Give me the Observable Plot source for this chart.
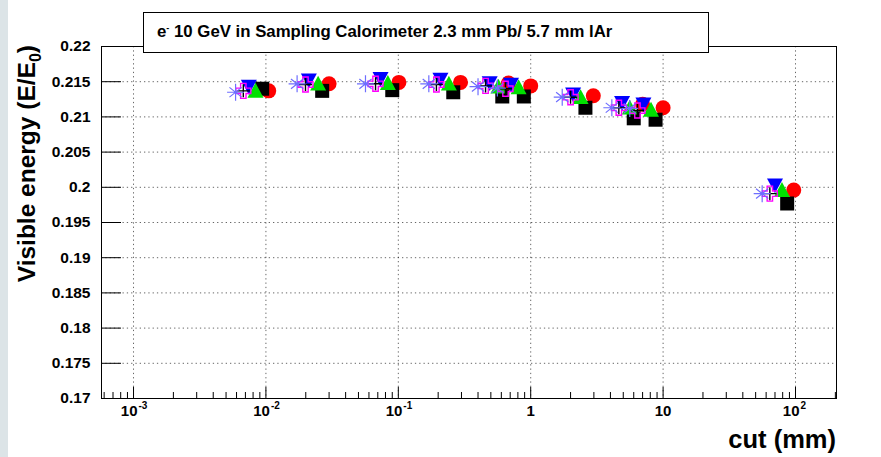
<!DOCTYPE html>
<html><head><meta charset="utf-8">
<script src="https://cdn.jsdelivr.net/npm/d3@7"></script>
<script src="https://cdn.jsdelivr.net/npm/@observablehq/plot@0.6"></script>
<style>
body{margin:0;background:#fff;}
#wrap{position:relative;width:881px;height:457px;overflow:hidden;font-family:"Liberation Sans",Arial,sans-serif;background:#fff;}
#strip{position:absolute;left:0;top:0;width:8px;height:457px;background:#dce4e7;z-index:2;}
#title{position:absolute;left:143px;top:12px;width:566px;height:41px;box-sizing:border-box;border:1px solid #000;background:#fff;font-weight:bold;font-size:16.8px;line-height:38px;padding-left:13px;z-index:3;white-space:nowrap;}
#title sup{font-size:9px;vertical-align:6px;line-height:0;}
svg{position:absolute;left:0;top:0;}
</style></head>
<body><div id="wrap"><div id="strip"></div><div id="title">e<sup>-</sup> 10 GeV in Sampling Calorimeter 2.3 mm Pb/ 5.7 mm lAr</div></div>
<script>
// ---- data (cut in mm, visible energy fraction) ----
const xStar   = [0.0059, 0.0172, 0.0565, 0.170, 0.40, 0.56, 1.73, 4.1, 5.6, 56];
const yStar   = [0.2135, 0.2147, 0.2147, 0.2147, 0.2143, 0.2141, 0.2128, 0.2113, 0.2112, 0.1991];
const xCross  = [0.00675, 0.0199, 0.0673, 0.194, 0.456, 0.645, 2.0, 4.63, 6.4, 64];
const yCross  = [0.2137, 0.2146, 0.2147, 0.2146, 0.2144, 0.2140, 0.2128, 0.2113, 0.2109, 0.1991];
const xPlus   = [0.00675, 0.0199, 0.0673, 0.194, 0.456, 0.645, 2.0, 4.63, 6.4, 64];
const yPlus   = [0.2137, 0.2146, 0.2147, 0.2146, 0.2144, 0.2140, 0.2128, 0.2113, 0.2109, 0.1991];
const xTriDn  = [0.00743, 0.0211, 0.0734, 0.208, 0.49, 0.71, 2.09, 4.9, 7.1, 70];
const yTriDn  = [0.2143, 0.2152, 0.2154, 0.2153, 0.2148, 0.2146, 0.2132, 0.2120, 0.2118, 0.2003];
const xTriUp  = [0.00834, 0.0248, 0.0834, 0.241, 0.57, 0.81, 2.38, 5.6, 8.1, 79];
const yTriUp  = [0.2137, 0.2147, 0.2148, 0.2147, 0.2143, 0.2142, 0.2128, 0.2113, 0.2110, 0.1996];
const xSquare = [0.00937, 0.0266, 0.090, 0.260, 0.61, 0.887, 2.59, 6.0, 8.77, 86.5];
const ySquare = [0.2140, 0.2137, 0.2138, 0.2135, 0.2129, 0.2129, 0.2113, 0.2098, 0.2096, 0.1977];
const xCircle = [0.0105, 0.030, 0.101, 0.295, 0.68, 1.0, 2.97, 7.0, 10, 97];
const yCircle = [0.2137, 0.2147, 0.2149, 0.2149, 0.2148, 0.2144, 0.2130, 0.2118, 0.2113, 0.1996];

// ---- axes ----
const xDomain = [5.73e-4, 204];
const yDomain = [0.17, 0.22];
const xMajor = [1e-3, 1e-2, 1e-1, 1, 10, 100];
const xBase  = ["10", "10", "10", "1", "10", "10"];
const xExp   = ["-3", "-2", "-1", "", "", "2"];
const xMinor = [6e-4,7e-4,8e-4,9e-4].concat(...[1e-3,1e-2,1e-1,1,10,100].map(d => [2,3,4,5,6,7,8,9].map(k => k*d).filter(v => v <= 204)));
const yTicks  = [0.17, 0.175, 0.18, 0.185, 0.19, 0.195, 0.2, 0.205, 0.21, 0.215, 0.22];
const yLabels = ["0.17","0.175","0.18","0.185","0.19","0.195","0.2","0.205","0.21","0.215","0.22"];

const W = 881, H = 457, mL = 101, mR = 45, mT = 46, mB = 59;
const fW = W - mL - mR, fH = H - mT - mB;
const FONT = "Liberation Sans, Arial, sans-serif";

// ---- marker shapes (ROOT-like) ----
const rad = s => Math.sqrt(s / Math.PI);
const symAsterisk = {draw(c, s){const r = rad(s), d = r*0.72;
  c.moveTo(-r,0);c.lineTo(r,0);c.moveTo(0,-r);c.lineTo(0,r);
  c.moveTo(-d,-d*0.8);c.lineTo(d,d*0.8);c.moveTo(-d,d*0.8);c.lineTo(d,-d*0.8);}};
const symPlus = {draw(c, s){const r = rad(s); c.moveTo(-r,0);c.lineTo(r,0);c.moveTo(0,-r);c.lineTo(0,r);}};
const symOpenCross = {draw(c, s){const r = rad(s), a = r*0.36;
  c.moveTo(-a,-r);c.lineTo(a,-r);c.lineTo(a,-a);c.lineTo(r,-a);c.lineTo(r,a);c.lineTo(a,a);
  c.lineTo(a,r);c.lineTo(-a,r);c.lineTo(-a,a);c.lineTo(-r,a);c.lineTo(-r,-a);c.lineTo(-a,-a);c.closePath();}};
const symTriUp = {draw(c, s){const r = rad(s); c.moveTo(0,-r);c.lineTo(r,r*0.85);c.lineTo(-r,r*0.85);c.closePath();}};
const symTriDn = {draw(c, s){const r = rad(s); c.moveTo(0,r);c.lineTo(r,-r*0.85);c.lineTo(-r,-r*0.85);c.closePath();}};
const symSquare = {draw(c, s){const r = rad(s); c.rect(-r,-r,2*r,2*r);}};

const idx = d3.range(xCircle.length);
const series = (xs, ys, opts) => Plot.dot(idx, {x: i => xs[i], y: i => ys[i], ...opts});

const chart = Plot.plot({
  width: W, height: H,
  marginLeft: mL, marginRight: mR, marginTop: mT, marginBottom: mB,
  style: {fontFamily: FONT, background: "transparent", overflow: "visible"},
  x: {type: "log", domain: xDomain, axis: null},
  y: {type: "linear", domain: yDomain, axis: null},
  marks: [
    Plot.ruleX(xMajor, {x: d => d, stroke: "#000", strokeOpacity: 0.6, strokeDasharray: "1.3,3"}),
    Plot.ruleY(yTicks.slice(1, -1), {y: d => d, stroke: "#000", strokeOpacity: 0.6, strokeDasharray: "1.3,3"}),
    Plot.frame({stroke: "#000", strokeWidth: 1}),
    Plot.tickX(xMajor, {x: d => d, insetTop: fH - 11, stroke: "#000"}),
    Plot.tickX(xMinor, {x: d => d, insetTop: fH - 6, stroke: "#000"}),
    Plot.tickY(yTicks, {y: d => d, insetRight: fW - 20, stroke: "#000"}),
    Plot.text(yTicks, {y: d => d, frameAnchor: "left", text: (d, i) => yLabels[i], textAnchor: "end", dx: -11, fontSize: 15.5, fontWeight: "bold", fill: "#000"}),
    Plot.text(xMajor.filter((d, i) => xExp[i] !== ""), {x: d => d, frameAnchor: "bottom", text: d => xBase[xMajor.indexOf(d)], textAnchor: "end", dx: 4, dy: 17, fontSize: 15, fontWeight: "bold", fill: "#000"}),
    Plot.text(xMajor.filter((d, i) => xExp[i] !== ""), {x: d => d, frameAnchor: "bottom", text: d => xExp[xMajor.indexOf(d)], textAnchor: "start", dx: 5, dy: 10, fontSize: 10, fontWeight: "bold", fill: "#000"}),
    Plot.text(xMajor.filter((d, i) => xExp[i] === ""), {x: d => d, frameAnchor: "bottom", text: d => xBase[xMajor.indexOf(d)], textAnchor: "middle", dy: 17, fontSize: 15, fontWeight: "bold", fill: "#000"}),
    // data series
    series(xCircle, yCircle, {symbol: "circle", r: 7.5, fill: "#ff0000", stroke: "none"}),
    series(xSquare, ySquare, {symbol: symSquare, r: 7, fill: "#000", stroke: "none"}),
    series(xTriUp, yTriUp, {symbol: symTriUp, r: 8, fill: "#00e000", stroke: "none"}),
    series(xTriDn, yTriDn, {symbol: symTriDn, r: 8, fill: "#0000ff", stroke: "none"}),
    series(xCross, yCross, {symbol: symOpenCross, r: 7.5, fill: "none", stroke: "#ff00ff", strokeWidth: 1.4}),
    series(xPlus, yPlus, {symbol: symPlus, r: 6.5, fill: "none", stroke: "#000", strokeWidth: 1.4}),
    series(xStar, yStar, {symbol: symAsterisk, r: 8.5, fill: "none", stroke: "#6e6eff", strokeWidth: 1.2})
  ]
});

const svg = d3.select(chart.tagName.toLowerCase() === "svg" ? chart : chart.querySelector("svg"));
// axis titles
const yt = svg.append("text")
  .attr("transform", `translate(35,${mT - 1}) rotate(-90)`)
  .attr("text-anchor", "end")
  .attr("font-family", FONT).attr("font-weight", "bold").attr("font-size", 24.5).attr("fill", "#000");
yt.append("tspan").text("Visible energy (E/E");
yt.append("tspan").attr("font-size", 16).attr("dy", 6).text("0");
yt.append("tspan").attr("dy", -6).text(")");
svg.append("text")
  .attr("x", W - mR).attr("y", 448)
  .attr("text-anchor", "end")
  .attr("font-family", FONT).attr("font-weight", "bold").attr("font-size", 25.5).attr("fill", "#000")
  .text("cut (mm)");

document.getElementById("wrap").appendChild(chart);
</script>
</body></html>
